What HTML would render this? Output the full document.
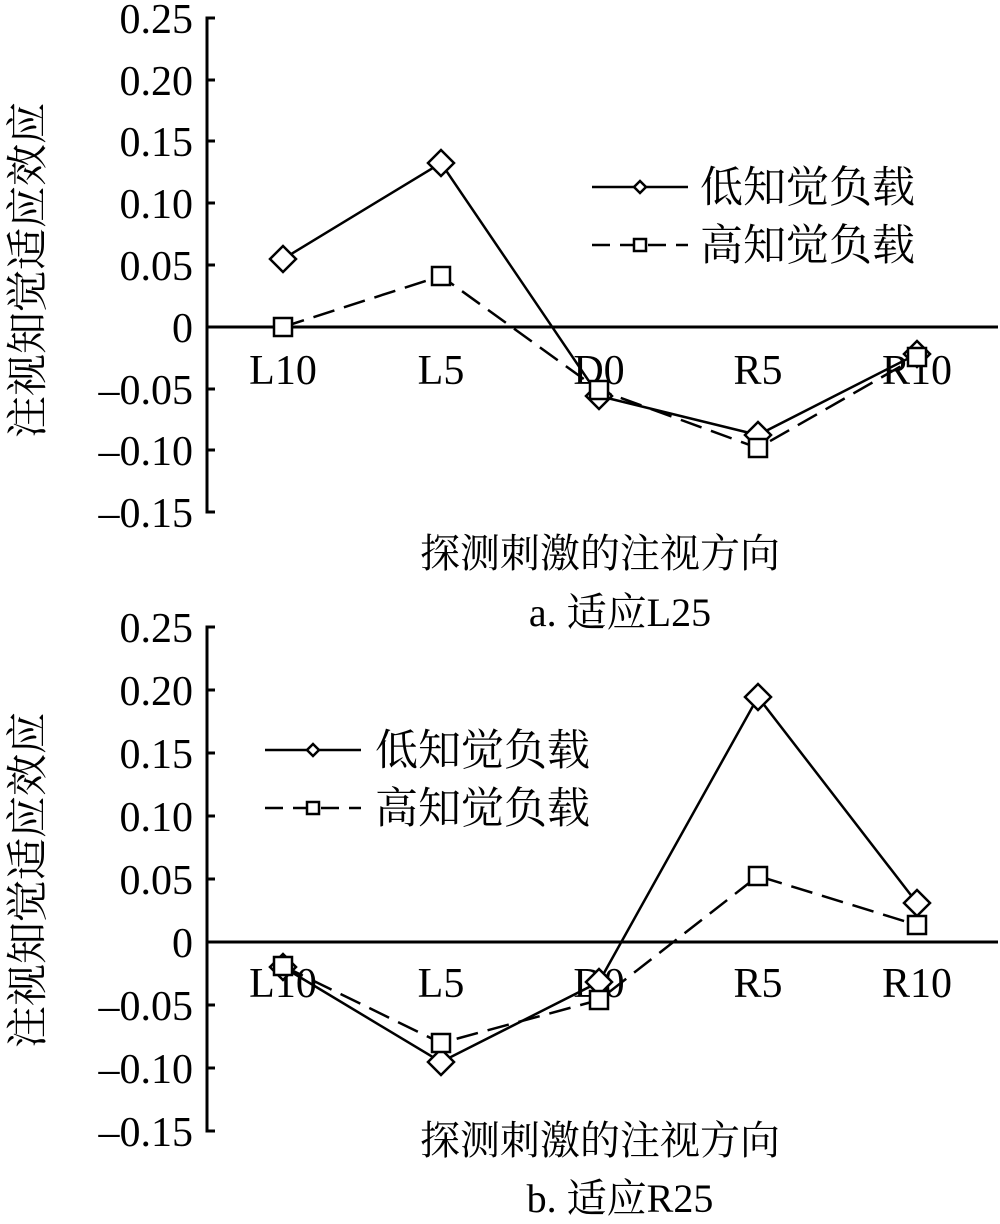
<!DOCTYPE html>
<html><head><meta charset="utf-8"><style>
body{margin:0;background:#fff;}
svg text{font-family:"Liberation Serif","Noto Serif CJK SC",serif;fill:#000;}
</style></head><body>
<svg width="1000" height="1219" viewBox="0 0 1000 1219" xmlns="http://www.w3.org/2000/svg">
<g stroke="#000" stroke-width="3" fill="none">
<path d="M215 18H207V512H215M207 80h8M207 141h8M207 203h8M207 265h8M207 389h8M207 450h8"/>
<path d="M207 327H998"/>
<path d="M215 627H207V1131H215M207 690h8M207 753h8M207 816h8M207 879h8M207 1005h8M207 1068h8"/>
<path d="M207 942H998"/>
</g>
<g font-size="42" text-anchor="end">
<text x="193" y="33">0.25</text><text x="193" y="95">0.20</text><text x="193" y="156">0.15</text><text x="193" y="218">0.10</text><text x="193" y="280">0.05</text><text x="193" y="342">0</text><text x="193" y="404">–0.05</text><text x="193" y="465">–0.10</text><text x="193" y="527">–0.15</text>
<text x="193" y="642">0.25</text><text x="193" y="705">0.20</text><text x="193" y="768">0.15</text><text x="193" y="831">0.10</text><text x="193" y="894">0.05</text><text x="193" y="957">0</text><text x="193" y="1020">–0.05</text><text x="193" y="1083">–0.10</text><text x="193" y="1146">–0.15</text>
</g>
<g font-size="42" text-anchor="middle">
<text x="283" y="384">L10</text><text x="441" y="384">L5</text><text x="599" y="384">D0</text><text x="758" y="384">R5</text><text x="917" y="384">R10</text>
<text x="283" y="997">L10</text><text x="441" y="997">L5</text><text x="599" y="997">D0</text><text x="758" y="997">R5</text><text x="917" y="997">R10</text>
<text x="600" y="567" font-size="40">探测刺激的注视方向</text>
<text x="620" y="626" font-size="40">a. 适应L25</text>
<text x="600" y="1154" font-size="40">探测刺激的注视方向</text>
<text x="620" y="1212" font-size="40">b. 适应R25</text>
</g>
<text font-size="42" text-anchor="middle" transform="translate(42 270) rotate(-90)">注视知觉适应效应</text>
<text font-size="42" text-anchor="middle" transform="translate(42 880) rotate(-90)">注视知觉适应效应</text>
<g stroke="#000" stroke-width="2.5" fill="none">
<polyline points="283,259 441,163 599,396 758,435 917,354"/>
<polyline stroke-dasharray="22,10" points="283,327 441,276 599,390 758,448 917,357"/>
<polyline points="283,967 441,1062 599,982 758,697 917,903"/>
<polyline stroke-dasharray="22,10" points="283,966 441,1043 599,1000 758,876 917,925"/>
</g>
<g stroke="#000" stroke-width="2.5" fill="#fff">
<path d="M283 246l13 13-13 13-13-13zM441 150l13 13-13 13-13-13zM599 383l13 13-13 13-13-13zM758 422l13 13-13 13-13-13zM917 341l13 13-13 13-13-13z"/>
<path d="M274 318h18v18h-18zM432 267h18v18h-18zM590 381h18v18h-18zM749 439h18v18h-18zM908 348h18v18h-18z"/>
<path d="M283 954l13 13-13 13-13-13zM441 1049l13 13-13 13-13-13zM599 969l13 13-13 13-13-13zM758 684l13 13-13 13-13-13zM917 890l13 13-13 13-13-13z"/>
<path d="M274 957h18v18h-18zM432 1034h18v18h-18zM590 991h18v18h-18zM749 867h18v18h-18zM908 916h18v18h-18z"/>
</g>
<g stroke="#000" stroke-width="2.5" fill="none">
<path d="M592 187H688"/><path d="M592 245H688" stroke-dasharray="18,10"/>
<path d="M265 750H361"/><path d="M265 808H361" stroke-dasharray="18,10"/>
</g>
<g stroke="#000" stroke-width="2.5" fill="#fff">
<path d="M640 181l6 6-6 6-6-6z"/><rect x="634" y="239" width="12" height="12"/>
<path d="M313 744l6 6-6 6-6-6z"/><rect x="307" y="802" width="12" height="12"/>
</g>
<g font-size="43">
<text x="700" y="202">低知觉负载</text><text x="700" y="260">高知觉负载</text>
<text x="375" y="765">低知觉负载</text><text x="375" y="823">高知觉负载</text>
</g>
</svg>
</body></html>
